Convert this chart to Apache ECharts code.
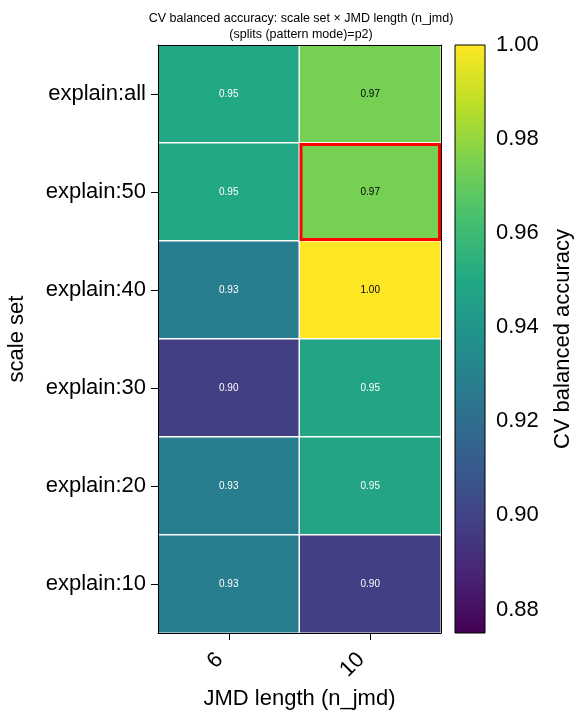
<!DOCTYPE html>
<html>
<head>
<meta charset="utf-8">
<script src="https://cdn.jsdelivr.net/npm/echarts@6/dist/echarts.min.js"></script>
<style>
html,body{margin:0;padding:0;background:#fff;}
#chart{width:580px;height:719px;}
</style>
</head>
<body>
<div id="chart"></div>
<script>
// ---- data ----
const jmdLengths = ['6', '10'];
const scaleSets = ['explain:all', 'explain:50', 'explain:40', 'explain:30', 'explain:20', 'explain:10'];
const accJmd6 = [0.950, 0.950, 0.928, 0.898, 0.928, 0.928];
const accJmd10 = [0.974, 0.974, 1.000, 0.948, 0.948, 0.898];
const colorbarTicks = [0.88, 0.90, 0.92, 0.94, 0.96, 0.98, 1.00];
const vMin = 0.875, vMax = 1.0;
const highlightCell = { col: '10', row: 'explain:50' };

const viridis = ['#440154', '#482475', '#414487', '#355f8d', '#2a788e', '#21918c',
  '#22a884', '#44bf70', '#7ad151', '#bddf26', '#fde725'];

const FONT = 'Liberation Sans, Arial, sans-serif';
const FS = 22;

const columns = [accJmd6, accJmd10];
const heatData = [];
columns.forEach((vals, ci) => {
  vals.forEach((v, ri) => {
    heatData.push({
      value: [ci, ri, v],
      label: { color: (v - vMin) / (vMax - vMin) > 0.7 ? '#000' : '#fff' }
    });
  });
});
const hlData = [[jmdLengths.indexOf(highlightCell.col), scaleSets.indexOf(highlightCell.row), 0]];

const chart = echarts.init(document.getElementById('chart'), null, { renderer: 'canvas' });

const grid0 = { left: 158, right: 139, top: 45, bottom: 86 };
const grid1 = { left: 455, width: 30, top: 45, bottom: 86 };

chart.setOption({
  backgroundColor: '#fff',
  animation: false,
  textStyle: { fontFamily: FONT },
  title: {
    text: 'CV balanced accuracy: scale set × JMD length (n_jmd)\n(splits (pattern mode)=p2)',
    left: 296,
    textAlign: 'center',
    top: 6,
    textStyle: { fontSize: 12.5, fontWeight: 'normal', color: '#000', lineHeight: 16, fontFamily: FONT }
  },
  grid: [grid0, grid1],
  visualMap: {
    show: false,
    type: 'continuous',
    min: vMin,
    max: vMax,
    dimension: 2,
    seriesIndex: 0,
    inRange: { color: viridis }
  },
  xAxis: [
    {
      type: 'category', gridIndex: 0, data: jmdLengths, position: 'bottom', z: 20,
      axisLine: { show: true, lineStyle: { color: '#000', width: 1 } },
      axisTick: { show: true, alignWithLabel: true, length: 7, lineStyle: { color: '#000' } },
      axisLabel: { rotate: 45, fontSize: FS, color: '#000', margin: 14, padding: [0, 13, 0, 0], fontFamily: FONT },
      splitLine: { show: false },
      name: 'JMD length (n_jmd)', nameLocation: 'middle', nameGap: 52,
      nameTextStyle: { fontSize: FS, color: '#000', fontFamily: FONT }
    },
    {
      type: 'category', gridIndex: 0, data: jmdLengths, position: 'top', z: 20,
      axisLine: { show: true, lineStyle: { color: '#000', width: 1 } },
      axisTick: { show: false }, axisLabel: { show: false }, splitLine: { show: false }
    },
    {
      type: 'value', gridIndex: 1, min: 0, max: 1, show: false
    }
  ],
  yAxis: [
    {
      type: 'category', gridIndex: 0, data: scaleSets, inverse: true, z: 20,
      axisLine: { show: true, lineStyle: { color: '#000', width: 1 } },
      axisTick: { show: true, alignWithLabel: true, length: 7, lineStyle: { color: '#000' } },
      axisLabel: { fontSize: FS, color: '#000', margin: 12, fontFamily: FONT },
      splitLine: { show: false },
      name: 'scale set', nameLocation: 'middle', nameGap: 130,
      nameTextStyle: { fontSize: FS, color: '#000', fontFamily: FONT }
    },
    {
      type: 'category', gridIndex: 0, data: scaleSets, inverse: true, position: 'right', z: 20,
      axisLine: { show: true, lineStyle: { color: '#000', width: 1 } },
      axisTick: { show: false }, axisLabel: { show: false }, splitLine: { show: false }
    },
    {
      type: 'value', gridIndex: 1, min: vMin, max: vMax, position: 'right',
      axisLine: { show: false },
      axisTick: { show: true, length: 7, lineStyle: { color: '#000' }, customValues: colorbarTicks },
      axisLabel: {
        fontSize: FS, color: '#000', margin: 11, fontFamily: FONT,
        customValues: colorbarTicks,
        formatter: v => Number(v).toFixed(2)
      },
      splitLine: { show: false },
      name: 'CV balanced accuracy', nameLocation: 'middle', nameGap: 67,
      nameTextStyle: { fontSize: FS, color: '#000', fontFamily: FONT }
    }
  ],
  series: [
    {
      type: 'heatmap',
      xAxisIndex: 0, yAxisIndex: 0,
      data: heatData,
      itemStyle: { borderColor: '#fff', borderWidth: 1.5 },
      label: {
        show: true, fontSize: 10, fontFamily: FONT,
        formatter: p => p.value[2].toFixed(2)
      },
      emphasis: { disabled: true }
    },
    {
      type: 'custom',
      xAxisIndex: 0, yAxisIndex: 0,
      data: hlData,
      z: 10,
      renderItem: (params, api) => {
        const c = api.coord([api.value(0), api.value(1)]);
        const s = api.size([1, 1]);
        return {
          type: 'rect',
          shape: { x: c[0] - s[0] / 2 + 1.5, y: c[1] - s[1] / 2 + 1.5, width: s[0] - 3, height: s[1] - 3 },
          style: { fill: 'none', stroke: '#ff0000', lineWidth: 3 }
        };
      }
    },
    {
      type: 'custom',
      xAxisIndex: 2, yAxisIndex: 2,
      data: [[0, 1, vMin, vMax]],
      renderItem: (params, api) => {
        const p0 = api.coord([api.value(0), api.value(2)]);
        const p1 = api.coord([api.value(1), api.value(3)]);
        const stops = viridis.map((c, i) => ({ offset: i / (viridis.length - 1), color: c }));
        return {
          type: 'rect',
          shape: { x: p0[0], y: p1[1], width: p1[0] - p0[0], height: p0[1] - p1[1] },
          style: {
            fill: new echarts.graphic.LinearGradient(0, 1, 0, 0, stops),
            stroke: '#000', lineWidth: 1
          }
        };
      }
    }
  ]
});
</script>
</body>
</html>
